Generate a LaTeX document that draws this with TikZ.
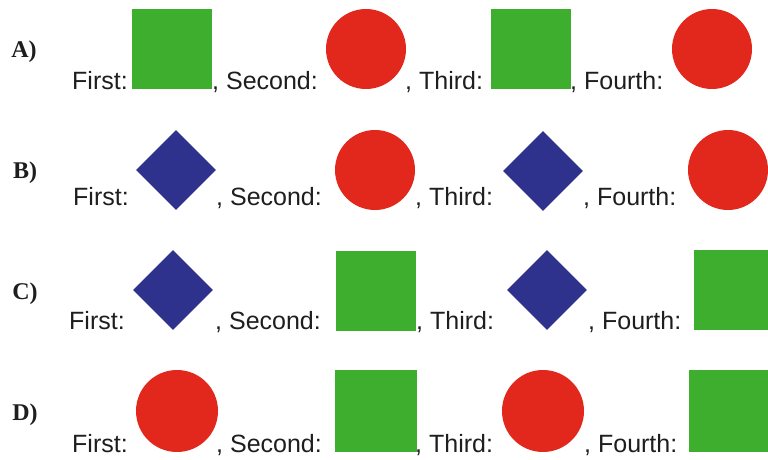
\documentclass[tikz,border=0pt]{standalone}
\usepackage{fontspec}
\setmainfont{Liberation Sans}
\newfontfamily\lblfont{Liberation Serif}
\usetikzlibrary{shapes.geometric}
\definecolor{shgreen}{RGB}{62,174,46}
\definecolor{shred}{RGB}{226,40,28}
\definecolor{shblue}{RGB}{46,50,140}
\definecolor{textc}{RGB}{30,30,30}
\tikzset{
  sq/.style={rectangle, fill=shgreen, minimum size=80pt, inner sep=0pt},
  ci/.style={circle, fill=shred, minimum size=80pt, inner sep=0pt},
  di/.style={diamond, fill=shblue, minimum size=80pt, inner sep=0pt},
  txt/.style={anchor=base west, inner sep=0pt, font=\fontsize{25}{30}\selectfont, text=textc},
  lab/.style={inner sep=0pt, font=\lblfont\bfseries\fontsize{24}{28}\selectfont, text=textc}
}
\begin{document}
\begin{tikzpicture}[x=1pt,y=-1pt]
\useasboundingbox (0,0) rectangle (768,460);
\begin{scope}
\clip (0,0) rectangle (768,460);
% Row A
\node[lab] (la) at (24,52) {A)};
\node[txt] (a0) at (72,89) {First:};
\node[sq] (a1) at (172,49) {};
\node[txt] (a1t) at (212,89) {, Second:};
\node[ci] (a2) at (366,49) {};
\node[txt] (a2t) at (405,89) {, Third:};
\node[sq] (a3) at (530.5,49) {};
\node[txt] (a3t) at (570,89) {, Fourth:};
\node[ci] (a4) at (712,49) {};
% Row B
\node[lab] (lb) at (25,173) {B)};
\node[txt] (b0) at (73,205) {First:};
\node[di] (b1) at (176,170) {};
\node[txt] (b1t) at (216,205) {, Second:};
\node[ci] (b2) at (375,170) {};
\node[txt] (b2t) at (415,205) {, Third:};
\node[di] (b3) at (543,171) {};
\node[txt] (b3t) at (583,205) {, Fourth:};
\node[ci] (b4) at (728,170) {};
% Row C
\node[lab] (lc) at (25,294) {C)};
\node[txt] (c0) at (69,329) {First:};
\node[di] (c1) at (173,290) {};
\node[txt] (c1t) at (215,329) {, Second:};
\node[sq] (c2) at (375.5,290.5) {};
\node[txt] (c2t) at (416,329) {, Third:};
\node[di] (c3) at (547,290) {};
\node[txt] (c3t) at (588,329) {, Fourth:};
\node[sq] (c4) at (734,290) {};
% Row D
\node[lab] (ld) at (25,415) {D)};
\node[txt] (d0) at (72,452) {First:};
\node[ci, minimum size=82pt] (d1) at (177,411) {};
\node[txt] (d1t) at (216,452) {, Second:};
\node[sq, minimum size=82pt] (d2) at (376,411) {};
\node[txt] (d2t) at (415,452) {, Third:};
\node[ci, minimum size=82pt] (d3) at (543,411) {};
\node[txt] (d3t) at (584,452) {, Fourth:};
\node[sq, minimum size=82pt] (d4) at (730,411) {};
\end{scope}
\end{tikzpicture}
\end{document}
